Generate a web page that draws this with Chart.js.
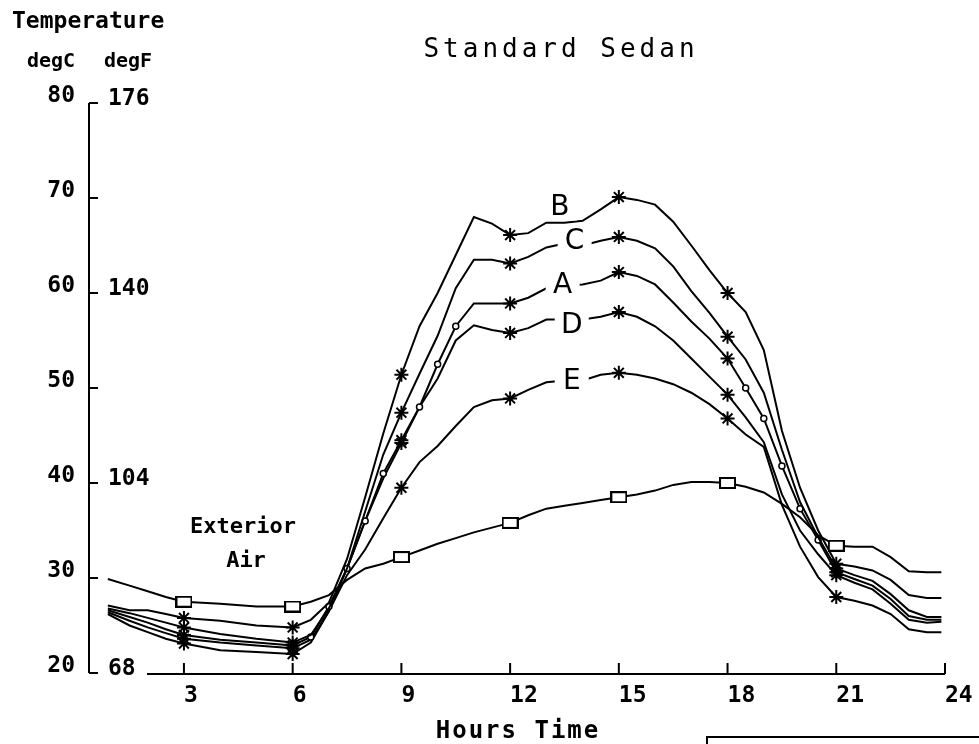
<!DOCTYPE html>
<html>
<head>
<meta charset="utf-8">
<title>Standard Sedan</title>
<script src="https://cdn.jsdelivr.net/npm/chart.js@4.4.1/dist/chart.umd.min.js"></script>
<style>
  body { margin: 0; background: #fff; }
  #wrap { width: 979px; height: 744px; position: relative; }
</style>
</head>
<body>
<div id="wrap"><canvas id="sedanChart"></canvas></div>
<script>
// hours of the day where the curves were read
const hours = [0.9, 1.5, 2, 2.5, 3, 4, 5, 6, 6.5, 7, 7.5, 8, 8.5, 9, 9.5, 10, 10.5, 11, 11.5, 12,
    12.5, 13, 13.5, 14, 14.5, 15, 15.5, 16, 16.5, 17, 17.5, 18, 18.5, 19, 19.5, 20, 20.5, 21,
    21.5, 22, 22.5, 23, 23.5, 23.9];

// temperatures, degC
const exteriorAir = [29.9, 29.2, 28.6, 28.0, 27.5, 27.3, 27.0, 27.0, 27.5, 28.2, 29.8, 31.0, 31.5, 32.2, 32.9, 33.6, 34.2, 34.8, 35.3, 35.8,
    36.6, 37.3, 37.6, 37.9, 38.2, 38.5, 38.8, 39.2, 39.8, 40.1, 40.1, 40.0, 39.6, 39.0, 37.8, 36.4, 34.5, 33.4,
    33.3, 33.3, 32.2, 30.7, 30.6, 30.6];
const curveB = [27.1, 26.6, 26.6, 26.2, 25.8, 25.5, 25.0, 24.8, 25.6, 27.4, 32.0, 38.5, 45.2, 51.4, 56.5, 60.0, 64.0, 68.0, 67.3, 66.1,
    66.3, 67.4, 67.4, 67.6, 68.8, 70.1, 69.8, 69.3, 67.5, 65.0, 62.4, 60.0, 58.0, 54.0, 45.5, 39.5, 35.0, 31.5,
    31.2, 30.8, 29.8, 28.2, 27.9, 27.9];
const curveC = [26.8, 26.3, 25.8, 25.3, 24.8, 24.1, 23.6, 23.2, 24.0, 26.8, 31.0, 37.0, 43.0, 47.4, 51.5, 55.5, 60.5, 63.5, 63.5, 63.1,
    63.8, 64.8, 65.2, 65.0, 65.5, 65.9, 65.5, 64.7, 62.8, 60.2, 57.9, 55.4, 53.0, 49.5, 43.5, 38.0, 34.3, 31.0,
    30.3, 29.7, 28.3, 26.6, 25.9, 25.9];
const curveA = [26.6, 25.9, 25.3, 24.6, 24.0, 23.5, 23.2, 22.9, 23.8, 27.0, 31.0, 36.0, 41.0, 44.5, 48.0, 52.5, 56.5, 58.9, 58.9, 58.9,
    59.5, 60.5, 60.8, 60.9, 61.3, 62.2, 61.8, 60.9, 59.0, 57.0, 55.2, 53.1, 50.0, 46.8, 41.8, 37.3, 34.0, 30.6,
    29.9, 29.2, 27.8, 26.0, 25.6, 25.6];
const curveD = [26.4, 25.5, 24.8, 24.2, 23.6, 23.2, 22.9, 22.6, 23.5, 26.5, 31.0, 36.0, 40.5, 44.2, 48.0, 51.0, 55.0, 56.6, 56.1, 55.8,
    56.3, 57.2, 57.2, 57.2, 57.5, 58.0, 57.5, 56.5, 55.0, 53.1, 51.2, 49.3, 46.9, 44.3, 38.8, 35.0, 32.5, 30.3,
    29.5, 28.8, 27.3, 25.6, 25.3, 25.4];
const curveE = [26.2, 25.0, 24.3, 23.6, 23.1, 22.4, 22.2, 22.0, 23.2, 26.5, 30.3, 33.0, 36.3, 39.5, 42.2, 43.9, 46.0, 48.0, 48.7, 48.9,
    49.8, 50.6, 50.8, 50.8, 51.4, 51.6, 51.4, 51.0, 50.4, 49.5, 48.3, 46.8, 45.1, 43.8, 37.7, 33.3, 30.1, 28.0,
    27.6, 27.1, 26.2, 24.6, 24.3, 24.3];

// axis ticks
const hourTicks = [3, 6, 9, 12, 15, 18, 21, 24];
const celsiusTicks = [20, 30, 40, 50, 60, 70, 80];
const fahrenheitAt = [20, 40, 60, 80];
const fahrenheitLabels = ['68', '104', '140', '176'];

// curve letters: [letter, hour, degC]
const curveLetters = [['B', 13.37, 69.0], ['C', 13.78, 65.4], ['A', 13.45, 60.8], ['D', 13.7, 56.6], ['E', 13.7, 50.7]];

const MONO = '"DejaVu Sans Mono", monospace';

// hollow square marker, a bit wider than tall like the plotter's
const squareMark = document.createElement('canvas');
squareMark.width = 17;
squareMark.height = 12;
(function () {
    const c = squareMark.getContext('2d');
    c.fillStyle = '#fff';
    c.fillRect(1, 1, 15, 10);
    c.strokeStyle = '#000';
    c.lineWidth = 2;
    c.strokeRect(1, 1, 15, 10);
})();

function onMarkHour(ctx) {
    return ctx.raw && ctx.raw.x % 3 === 0;
}

// the small circles only show up where the curve is steep
function steep(ctx) {
    const d = ctx.dataset.data;
    const i = ctx.dataIndex;
    if (i === 0 || i === d.length - 1) return false;
    const slope = (d[i + 1].y - d[i - 1].y) / (d[i + 1].x - d[i - 1].x);
    return Math.abs(slope) > 4;
}

function curve(label, temps, marker, circles) {
    return {
        label: label,
        data: hours.map((h, i) => ({ x: h, y: temps[i] })),
        borderColor: '#000',
        borderWidth: 2,
        tension: 0,
        pointStyle: ctx => onMarkHour(ctx) ? marker : 'circle',
        pointRadius: ctx => onMarkHour(ctx) ? 7 : (circles && steep(ctx) ? 3 : 0),
        pointBorderColor: '#000',
        pointBackgroundColor: '#fff',
        pointBorderWidth: ctx => onMarkHour(ctx) ? 2 : 1.5
    };
}

// _+_+_+_ axes, texts and curve letters _+_+_+_
const decor = {
    id: 'decor',
    afterDatasetsDraw(chart) {
        const { ctx, scales: { x, y } } = chart;
        ctx.save();
        ctx.font = '28px "DejaVu Sans", sans-serif';
        ctx.textAlign = 'center';
        ctx.textBaseline = 'middle';
        curveLetters.forEach(([letter, h, t]) => {
            const px = x.getPixelForValue(h);
            const py = y.getPixelForValue(t);
            ctx.fillStyle = '#fff';
            ctx.fillRect(px - 17, py - 13, 34, 26);
            ctx.fillStyle = '#000';
            ctx.fillText(letter, px, py);
        });
        ctx.restore();
    },
    afterDraw(chart) {
        const { ctx, chartArea, scales: { x, y } } = chart;
        ctx.save();
        ctx.strokeStyle = '#000';
        ctx.lineWidth = 2;

        // y axis with inward ticks
        ctx.beginPath();
        ctx.moveTo(chartArea.left, y.getPixelForValue(80));
        ctx.lineTo(chartArea.left, y.getPixelForValue(20));
        celsiusTicks.forEach(c => {
            const py = y.getPixelForValue(c);
            ctx.moveTo(chartArea.left, py);
            ctx.lineTo(chartArea.left + 9, py);
        });
        ctx.stroke();

        // x axis starts after the 68 label, ticks point up
        const axisY = y.getPixelForValue(20) + 1;
        ctx.beginPath();
        ctx.moveTo(chartArea.left + 58, axisY);
        ctx.lineTo(x.getPixelForValue(24), axisY);
        hourTicks.forEach(h => {
            const px = x.getPixelForValue(h);
            ctx.moveTo(px, axisY);
            ctx.lineTo(px, axisY - 11);
        });
        ctx.stroke();

        ctx.fillStyle = '#000';
        ctx.textBaseline = 'alphabetic';

        // degF labels next to the axis
        ctx.font = 'bold 23px ' + MONO;
        ctx.textAlign = 'left';
        fahrenheitAt.forEach((c, i) => {
            ctx.fillText(fahrenheitLabels[i], chartArea.left + 19, y.getPixelForValue(c) + 2);
        });

        ctx.fillText('Temperature', 12, 28);
        ctx.font = 'bold 20px ' + MONO;
        ctx.fillText('degC', 27, 67);
        ctx.fillText('degF', 104, 67);

        ctx.textAlign = 'center';
        ctx.font = 'bold 22px ' + MONO;
        ctx.fillText('Exterior', 243, 533);
        ctx.fillText('Air', 246, 567);

        ctx.font = '26px ' + MONO;
        ctx.letterSpacing = '4px';
        ctx.fillText('Standard Sedan', 561, 57);
        ctx.font = 'bold 24px ' + MONO;
        ctx.letterSpacing = '2px';
        ctx.fillText('Hours Time', 518, 738);
        ctx.letterSpacing = '0px';

        // box cut by the bottom edge
        ctx.strokeRect(707, 737, 300, 40);
        ctx.restore();
    }
};

new Chart(document.getElementById('sedanChart'), {
    type: 'line',
    data: {
        datasets: [
            curve('Exterior Air', exteriorAir, squareMark, false),
            curve('B', curveB, 'star', false),
            curve('C', curveC, 'star', false),
            curve('A', curveA, 'star', true),
            curve('D', curveD, 'star', false),
            curve('E', curveE, 'star', false)
        ]
    },
    options: {
        responsive: true,
        maintainAspectRatio: false,
        animation: false,
        events: [],
        layout: { padding: { top: 103, right: 34, bottom: 0, left: 0 } },
        plugins: {
            legend: { display: false },
            tooltip: { enabled: false },
            title: { display: false }
        },
        scales: {
            x: {
                type: 'linear',
                min: 0.38,
                max: 24,
                afterBuildTicks: s => { s.ticks = hourTicks.map(v => ({ value: v })); },
                afterFit: s => { s.height = 71; },
                grid: { display: false },
                border: { display: false },
                ticks: {
                    align: 'start',
                    padding: 1,
                    color: '#000',
                    autoSkip: false,
                    maxRotation: 0,
                    font: { family: MONO, size: 23, weight: 'bold' }
                }
            },
            y: {
                min: 20,
                max: 80,
                afterBuildTicks: s => { s.ticks = celsiusTicks.map(v => ({ value: v })); },
                afterFit: s => { s.width = 89; },
                grid: { display: false },
                border: { display: false },
                ticks: {
                    padding: 6,
                    labelOffset: -7,
                    color: '#000',
                    font: { family: MONO, size: 23, weight: 'bold' }
                }
            }
        }
    },
    plugins: [decor]
});
</script>
</body>
</html>
